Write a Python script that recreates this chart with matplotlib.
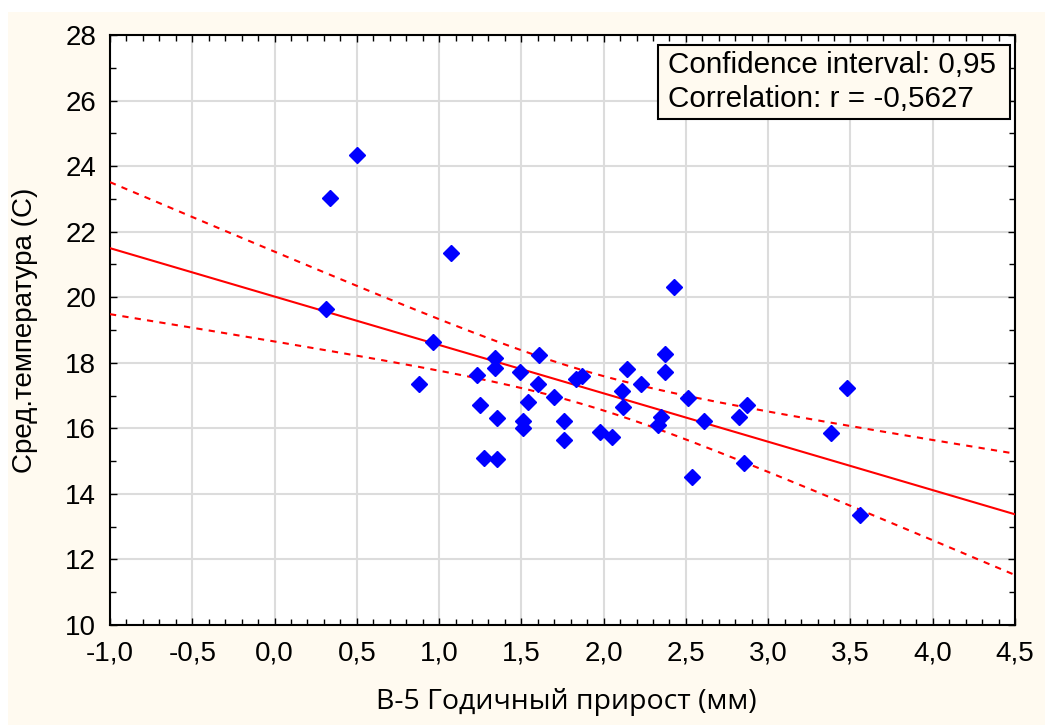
import numpy as np
import matplotlib.pyplot as plt
from matplotlib.patches import Rectangle

plt.rcParams['font.family'] = ['Liberation Sans', 'DejaVu Sans']

# annual growth (mm) and mean temperature (C)
growth = [0.34, 0.50, 0.31, 0.88, 0.96, 1.07, 1.23, 1.25, 1.27, 1.35, 1.34,
          1.34, 1.35, 1.49, 1.51, 1.51, 1.54, 1.61, 1.60, 1.70, 1.76, 1.76,
          1.83, 1.87, 2.43, 2.37, 2.37, 2.14, 2.23, 2.11, 2.12, 1.98, 2.05,
          2.35, 2.33, 2.51, 2.61, 2.54, 2.82, 2.87, 2.85, 3.38, 3.48, 3.56]
temp = [23.03, 24.34, 19.65, 17.36, 18.64, 21.35, 17.63, 16.72, 15.10, 15.07,
        18.15, 17.85, 16.32, 17.73, 16.23, 16.02, 16.81, 18.24, 17.36, 16.96,
        16.23, 15.65, 17.51, 17.60, 20.32, 18.27, 17.73, 17.82, 17.36, 17.15,
        16.66, 15.90, 15.75, 16.35, 16.10, 16.93, 16.23, 14.52, 16.35, 16.72,
        14.95, 15.87, 17.24, 13.37]

xticks = [-1.0, -0.5, 0.0, 0.5, 1.0, 1.5, 2.0, 2.5, 3.0, 3.5, 4.0, 4.5]
xticklabels = ['-1,0', '-0,5', '0,0', '0,5', '1,0', '1,5', '2,0', '2,5',
               '3,0', '3,5', '4,0', '4,5']
yticks = [10, 12, 14, 16, 18, 20, 22, 24, 26, 28]

x = np.array(growth)
y = np.array(temp)
n = len(x)

# linear fit + 95% confidence band of the mean
b, a = np.polyfit(x, y, 1)
resid = y - (a + b * x)
s = np.sqrt(np.sum(resid ** 2) / (n - 2))
sxx = np.sum((x - x.mean()) ** 2)
t_crit = 2.018  # t(0.975, df=42)
xs = np.linspace(-1.0, 4.5, 200)
fit = a + b * xs
half = t_crit * s * np.sqrt(1.0 / n + (xs - x.mean()) ** 2 / sxx)

cream = '#fffaf0'
fig = plt.figure(figsize=(10.45, 7.25), dpi=100, facecolor='white')
fig.patches.append(Rectangle((8 / 1045, 0), 1, (725 - 12) / 725,
                             transform=fig.transFigure, facecolor=cream,
                             edgecolor='none', zorder=-10))
ax = fig.add_axes([110 / 1045, 100 / 725, 905 / 1045, 590 / 725])
ax.set_facecolor('white')

ax.plot(xs, fit, color='#ff0000', lw=1.5, zorder=3)
ax.plot(xs, fit + half, color='#ff0000', lw=1.5, ls=(0, (3, 3)), zorder=3)
ax.plot(xs, fit - half, color='#ff0000', lw=1.5, ls=(0, (3, 3)), zorder=3)
ax.plot(x, y, ls='none', marker='D', ms=8, color='#0000ff', mec='#0000ff',
        zorder=4)

ax.set_xlim(-1.0, 4.5)
ax.set_ylim(10, 28)
ax.set_xticks(xticks)
ax.set_xticklabels(xticklabels)
ax.set_yticks(yticks)
ax.set_xticks(np.arange(-1.0, 4.51, 0.1), minor=True)
ax.set_yticks(np.arange(10, 28.1, 1), minor=True)
ax.tick_params(which='both', direction='in', top=True, right=True,
               labelsize=20, color='black')
ax.tick_params(axis='x', which='major', pad=11)
ax.tick_params(axis='y', which='major', pad=10)
ax.tick_params(which='major', length=5, width=1)
ax.tick_params(which='minor', length=4, width=1)
ax.grid(True, which='major', color='#dcdcdc', lw=1.5)
ax.set_axisbelow(True)
for sp in ax.spines.values():
    sp.set_linewidth(1.5)
    sp.set_color('black')

ax.set_xlabel('В-5 Годичный прирост (мм)', fontsize=20.5,
              family=['Open Sans', 'DejaVu Sans'])
ax.set_ylabel('Сред.температура (С)', fontsize=20)
ax.xaxis.label.set_va('center')
ax.yaxis.label.set_va('center')
ax.xaxis.set_label_coords((566 - 110) / 905, (625 - 702) / 590)
ax.yaxis.set_label_coords((25 - 110) / 905, 0.5)

# info box in the upper right corner
ax.add_patch(Rectangle((0.605, 0.858), 0.39, 0.125, transform=ax.transAxes,
                       facecolor=cream, edgecolor='black', lw=1.5, zorder=5))
ax.text(0.617, 0.95, 'Confidence interval: 0,95', transform=ax.transAxes,
        fontsize=21.3, va='center', ha='left', zorder=6)
ax.text(0.617, 0.892, 'Correlation: r = -0,5627', transform=ax.transAxes,
        fontsize=21.3, va='center', ha='left', zorder=6)

plt.savefig('out.png', dpi=100, facecolor=fig.get_facecolor())
